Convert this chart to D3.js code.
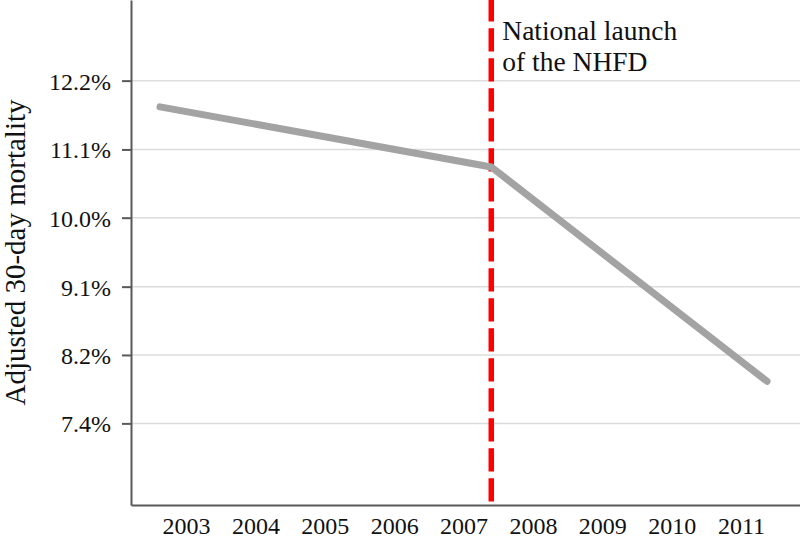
<!DOCTYPE html>
<html>
<head>
<meta charset="utf-8">
<script src="https://cdn.jsdelivr.net/npm/d3@7"></script>
<style>
	body { margin: 0; background: #fff; }
	text { font-family: "Liberation Serif", "Times New Roman", serif; fill: #111; }
</style>
</head>
<body>
<svg id="chart"></svg>
<script>
const years = [2003, 2004, 2005, 2006, 2007, 2008, 2009, 2010, 2011];
const yTicks = [0.1225, 0.1108, 0.1003, 0.0907, 0.0821, 0.0743];
const yTickLabels = ["12.2%", "11.1%", "10.0%", "9.1%", "8.2%", "7.4%"];
// fitted trend: start, national launch, end (time in years)
const trendT = [2003.125, 2007.9, 2011.875];
const trendV = [0.1179, 0.108, 0.079];
const launch = 2007.9;
const launchText = ["National launch", "of the NHFD"];

const width = 800, height = 538;
const margin = { top: 0, right: 0, bottom: 33, left: 131 };
const innerH = height - margin.top - margin.bottom;

const svg = d3.select("#chart")
	.attr("width", width)
	.attr("height", height);

const x = d3.scaleLinear()
	.domain([2002.707, 2012.35])
	.range([margin.left, width - margin.right]);

const y = d3.scaleLog()
	.domain([0.06596, 0.13779])
	.range([margin.top + innerH, margin.top]);

// grid
svg.append("g")
	.selectAll("line")
	.data(yTicks)
	.enter()
	.append("line")
	.attr("x1", margin.left)
	.attr("x2", width - margin.right)
	.attr("y1", d => y(d))
	.attr("y2", d => y(d))
	.attr("stroke", "#dcdcdc")
	.attr("stroke-width", 1.5);

// launch line
svg.append("line")
	.attr("x1", x(launch))
	.attr("x2", x(launch))
	.attr("y1", margin.top)
	.attr("y2", margin.top + innerH)
	.attr("stroke", "#ff0000")
	.attr("stroke-width", 5.5)
	.attr("stroke-dasharray", "23.3,6.7")
	.attr("stroke-dashoffset", 1.7);

const trend = trendT.map((t, i) => [t, trendV[i]]);

svg.append("path")
	.datum(trend)
	.attr("fill", "none")
	.attr("stroke", "#a3a3a3")
	.attr("stroke-width", 7)
	.attr("stroke-linecap", "round")
	.attr("stroke-linejoin", "round")
	.attr("d", d3.line().x(d => x(d[0])).y(d => y(d[1])));

// y axis
const yAxis = svg.append("g")
	.attr("transform", `translate(${margin.left},0)`)
	.call(d3.axisLeft(y)
		.tickValues(yTicks)
		.tickFormat((d, i) => yTickLabels[i])
		.tickSize(9)
		.tickSizeOuter(0)
		.tickPadding(11));

yAxis.select(".domain").attr("stroke", "#595959").attr("stroke-width", 2);
yAxis.selectAll(".tick line").attr("stroke", "#595959").attr("stroke-width", 2);
yAxis.selectAll(".tick text")
	.style("font-family", "Liberation Serif, serif")
	.style("font-size", "24px")
	.attr("fill", "#111")
	.attr("dy", "0.35em");

// x axis
const xAxis = svg.append("g")
	.attr("transform", `translate(0,${margin.top + innerH})`)
	.call(d3.axisBottom(x)
		.tickValues(years.map(d => d + 0.5))
		.tickFormat(d => String(Math.floor(d)))
		.tickSize(0)
		.tickSizeOuter(0));

xAxis.select(".domain").attr("stroke", "#595959").attr("stroke-width", 2);
xAxis.selectAll(".tick text")
	.style("font-family", "Liberation Serif, serif")
	.style("font-size", "24px")
	.attr("fill", "#111")
	.attr("y", 29)
	.attr("dy", 0);

// axis title
svg.append("text")
	.attr("transform", `translate(25,${(margin.top + innerH) / 2}) rotate(-90)`)
	.attr("text-anchor", "middle")
	.style("font-size", "29px")
	.text("Adjusted 30-day mortality");

// annotation
svg.append("text")
	.attr("x", x(launch) + 11)
	.attr("y", 40)
	.style("font-size", "27.5px")
	.selectAll("tspan")
	.data(launchText)
	.enter()
	.append("tspan")
	.attr("x", x(launch) + 11)
	.attr("dy", (d, i) => i === 0 ? 0 : 30.7)
	.text(d => d);
</script>
</body>
</html>
